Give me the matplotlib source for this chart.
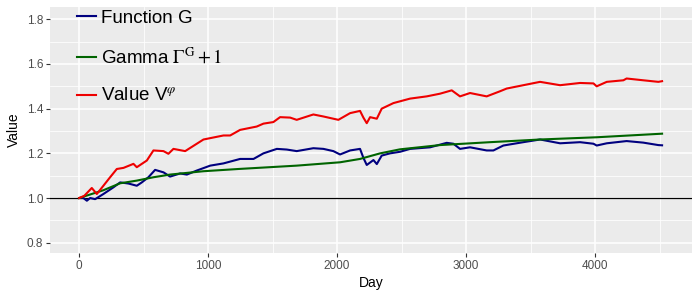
import numpy as np
import matplotlib.pyplot as plt
from matplotlib.ticker import MultipleLocator

plt.rcParams['font.family'] = ['Liberation Sans', 'DejaVu Sans']
plt.rcParams['mathtext.fontset'] = 'stix'

# Function G
days_g = [0, 33, 60, 85, 124, 188, 266, 318, 382, 447, 486, 537, 589, 654, 705,
          783, 835, 912, 1016, 1119, 1248, 1352, 1429, 1533, 1610, 1687, 1816,
          1894, 1971, 2023, 2101, 2178, 2204, 2230, 2282, 2308, 2346, 2411, 2488,
          2566, 2721, 2850, 2902, 2953, 3031, 3160, 3212, 3289, 3444, 3574, 3729,
          3884, 3988, 4013, 4091, 4245, 4374, 4491, 4520]
func_g = [1.0, 1.0, 0.988, 1.0, 0.995, 1.018, 1.048, 1.07, 1.065, 1.055, 1.07,
          1.093, 1.126, 1.115, 1.096, 1.11, 1.105, 1.123, 1.145, 1.155, 1.175,
          1.175, 1.2, 1.22, 1.217, 1.21, 1.223, 1.22, 1.21, 1.195, 1.213, 1.22,
          1.18, 1.148, 1.17, 1.152, 1.19, 1.2, 1.207, 1.22, 1.227, 1.247, 1.243,
          1.22, 1.227, 1.213, 1.213, 1.235, 1.25, 1.262, 1.245, 1.25, 1.243,
          1.235, 1.245, 1.255, 1.248, 1.237, 1.236]

# Gamma + 1
days_gamma = [0, 188, 318, 447, 576, 705, 964, 1235, 1687, 2023, 2178, 2334,
              2488, 2798, 3186, 3574, 4013, 4520]
gamma = [1.0, 1.035, 1.066, 1.078, 1.093, 1.105, 1.12, 1.13, 1.145, 1.16, 1.175,
         1.2, 1.218, 1.237, 1.25, 1.262, 1.272, 1.288]

# Value V
days_v = [0, 40, 98, 137, 188, 240, 292, 344, 421, 447, 525, 576, 654, 692, 731,
          822, 964, 1119, 1171, 1248, 1377, 1429, 1506, 1558, 1636, 1687, 1816,
          1894, 2010, 2101, 2178, 2204, 2230, 2256, 2308, 2346, 2437, 2566, 2695,
          2798, 2889, 2953, 3031, 3160, 3264, 3315, 3444, 3574, 3729, 3884, 3988,
          4013, 4091, 4220, 4245, 4374, 4491, 4520]
value_v = [1.0, 1.01, 1.045, 1.018, 1.055, 1.093, 1.13, 1.135, 1.153, 1.138,
           1.168, 1.213, 1.21, 1.198, 1.22, 1.21, 1.262, 1.28, 1.28, 1.305, 1.32,
           1.333, 1.34, 1.362, 1.36, 1.35, 1.374, 1.365, 1.35, 1.38, 1.39, 1.36,
           1.335, 1.362, 1.355, 1.4, 1.425, 1.445, 1.455, 1.467, 1.482, 1.455,
           1.47, 1.455, 1.478, 1.49, 1.505, 1.52, 1.505, 1.515, 1.513, 1.5, 1.52,
           1.527, 1.535, 1.527, 1.52, 1.523]

fig = plt.figure(figsize=(7, 3), dpi=100)
ax = fig.add_axes([50 / 700, 1 - 253 / 300, 642 / 700, 246 / 300])
ax.set_facecolor('#EBEBEB')

ax.xaxis.set_major_locator(MultipleLocator(1000))
ax.xaxis.set_minor_locator(MultipleLocator(500))
ax.yaxis.set_major_locator(MultipleLocator(0.2))
ax.yaxis.set_minor_locator(MultipleLocator(0.1))
ax.grid(which='major', color='white', linewidth=1.1)
ax.grid(which='minor', color='white', linewidth=0.55)
ax.set_axisbelow(True)
for s in ax.spines.values():
    s.set_visible(False)

ax.axhline(1.0, color='black', linewidth=0.9, zorder=2)
ax.plot(days_g, func_g, color='#00007F', linewidth=1.5, label='Function G', zorder=3)
ax.plot(days_gamma, gamma, color='#006400', linewidth=1.5,
        label=r'Gamma $\Gamma^{\mathrm{G}}+1$', zorder=3)
ax.plot(days_v, value_v, color='#EE0000', linewidth=1.5,
        label=r'Value V$^{\varphi}$', zorder=3)

ax.set_xlim(-226, 4752)
ax.set_ylim(0.754, 1.855)
ax.yaxis.set_major_formatter(plt.FuncFormatter(lambda v, p: f'{v:.1f}'))
ax.tick_params(which='major', length=3, color='#333333', labelcolor='#4D4D4D',
               labelsize=8.5, pad=2)
ax.tick_params(which='minor', length=0)
ax.set_xlabel('Day', fontsize=10, labelpad=3)
ax.set_ylabel('Value', fontsize=10, labelpad=4)

ax.legend(loc='upper left', bbox_to_anchor=(0.03, 1.02), frameon=False,
          fontsize=13.5, handlelength=1.0, handletextpad=0.3, labelspacing=1.1,
          borderaxespad=0)

fig.savefig('out.png', dpi=100)
